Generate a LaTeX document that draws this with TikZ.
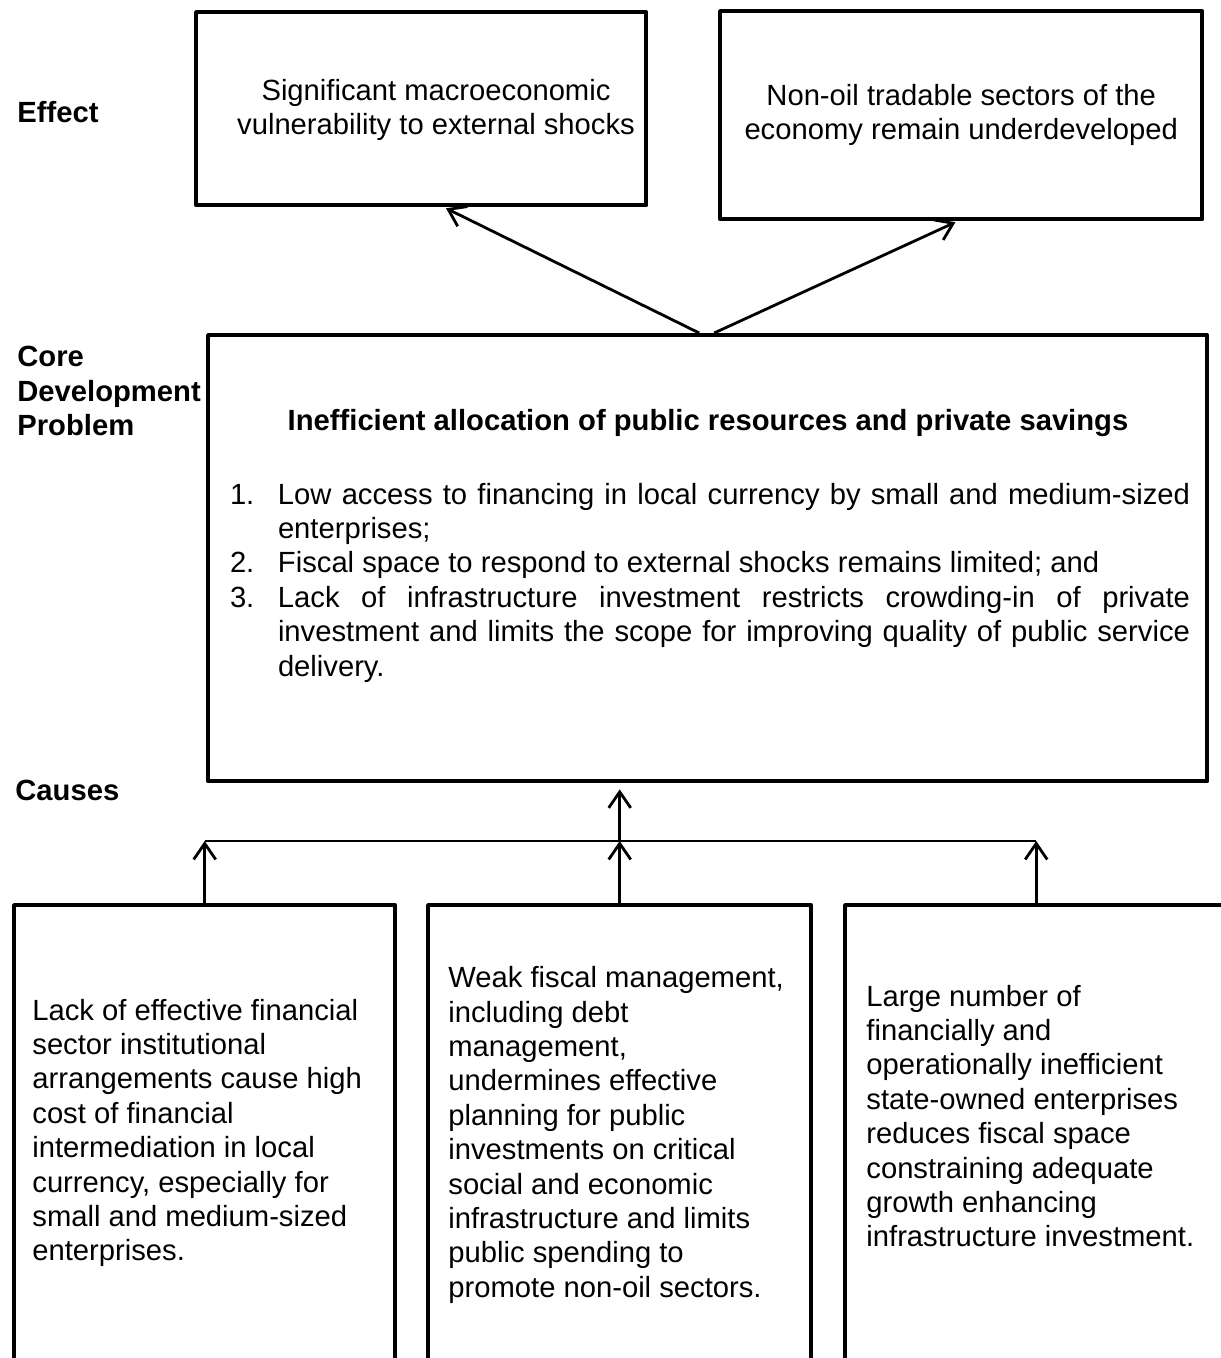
\documentclass[tikz,border=0pt]{standalone}
\usepackage{fontspec}
\setmainfont{Liberation Sans}
\usetikzlibrary{arrows.meta, positioning}

% numbered entry with hanging indent for the core problem list
\newcommand{\coreitem}[2]{\par\noindent\hangindent=24pt\hangafter=1\makebox[24pt][l]{#1}#2\par}

\begin{document}
\begin{tikzpicture}[x=0.5pt, y=-0.5pt,
    every node/.style={font=\fontsize{14.6pt}{17.2pt}\selectfont, inner sep=0pt}]
  \tikzset{
    box/.style={draw, line width=2.2pt, line join=round, anchor=north west},
    arr/.style={-{Straight Barb[length=8pt, width=11pt]}, line width=1.4pt},
    side/.style={anchor=west, align=left, font=\fontsize{14.6pt}{17.2pt}\selectfont\bfseries},
  }
  \hyphenpenalty=10000 \exhyphenpenalty=10000
  \useasboundingbox (0,0) rectangle (1220,1358);

  % Row labels on the left
  \node[side] (effLbl) at (17,112) {Effect};
  \node[side] (coreLbl) at (17,391) {Core\\Development\\Problem};
  \node[side] (causeLbl) at (15,790) {Causes};

  % Effects
  \node[box, minimum width=225pt, minimum height=96.5pt] (vuln) at (194,10) {};
  \node[align=center] (vulnTxt) at (436,110)
    {Significant macroeconomic\\vulnerability to external shocks};
  \node[box, minimum width=241pt, minimum height=104pt, align=center] (nonoil) at (718,9)
    {Non-oil tradable sectors of the\\economy remain underdeveloped};

  % Core development problem
  \node[box, minimum width=499.5pt, minimum height=223pt] (core) at (206,333) {};
  \node[font=\fontsize{14.6pt}{17.2pt}\selectfont\bfseries] (coreHead) at (708,423)
    {Inefficient allocation of public resources and private savings};
  \node[text width=480pt, align=justify] (coreList) at (710,576) {%
    \coreitem{1.}{Low access to financing in local currency by small and medium-sized\linebreak enterprises;}
    \coreitem{2.}{Fiscal space to respond to external shocks remains limited; and}
    \coreitem{3.}{Lack of infrastructure investment restricts crowding-in of private\linebreak investment and limits the scope for improving quality of public service\linebreak delivery.}};

  % Causes (boxes run off the bottom edge)
  \node[box, minimum width=190.5pt, minimum height=260pt] (finance) at (12,903) {};
  \node[box, minimum width=191.5pt, minimum height=260pt] (fiscal) at (426,903) {};
  \node[box, minimum width=191pt, minimum height=260pt] (soe) at (843,903) {};

  \node[anchor=west, align=left] (financeTxt) at (32,1133)
    {Lack of effective financial\\sector institutional\\arrangements cause high\\cost of financial\\intermediation in local\\currency, especially for\\small and medium-sized\\enterprises.};
  \node[anchor=west, align=left] (fiscalTxt) at (448,1135)
    {Weak fiscal management,\\including debt\\management,\\undermines effective\\planning for public\\investments on critical\\social and economic\\infrastructure and limits\\public spending to\\promote non-oil sectors.};
  \node[anchor=west, align=left] (soeTxt) at (866,1116)
    {Large number of\\financially and\\operationally inefficient\\state-owned enterprises\\reduces fiscal space\\constraining adequate\\growth enhancing\\infrastructure investment.};

  % Connectors: causes -> core
  \coordinate (bus) at (620,841);
  \draw[line width=1.2pt] (finance.north |- bus) -- (soe.north |- bus);
  \foreach \b in {finance, fiscal, soe}
    \draw[arr] (\b.north) -- (\b.north |- bus);
  \draw[arr, shorten >=3pt] (fiscal.north |- bus) -- (fiscal.north |- core.south);

  % Connectors: core -> effects
  \draw[arr, shorten >=1pt] ([xshift=-4.25pt]core.north) -- ([xshift=11.5pt]vuln.south);
  \draw[arr, shorten >=1pt] ([xshift=3.25pt]core.north) -- ([xshift=-2pt]nonoil.south);
\end{tikzpicture}
\end{document}
